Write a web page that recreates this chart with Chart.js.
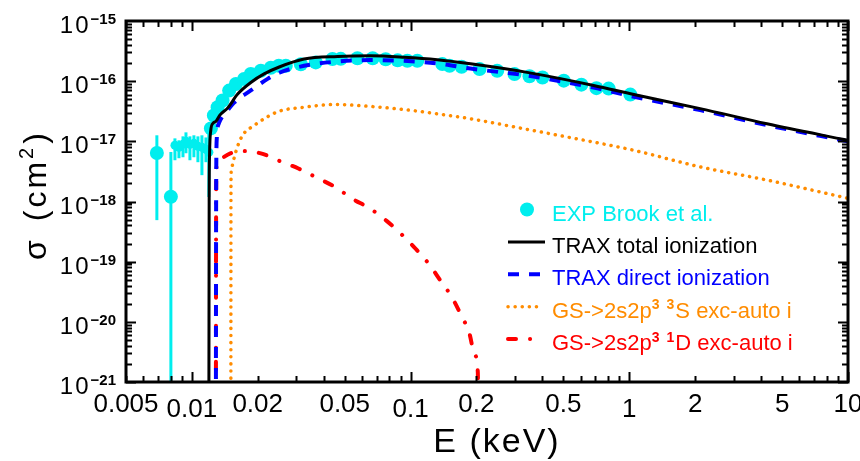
<!DOCTYPE html>
<html>
<head>
<meta charset="utf-8">
<script src="https://cdn.jsdelivr.net/npm/chart.js@4.4.1/dist/chart.umd.min.js"></script>
<style>
  html, body { margin: 0; padding: 0; background: #fff; }
  canvas { display: block; }
</style>
</head>
<body>
<canvas id="c" width="860" height="461"></canvas>
<script>
// cross sections in cm^2 vs electron energy in keV

// measured points (Brook et al.), with error bar bounds where visible
const expE = [0.00692, 0.00802, 0.00837, 0.00873, 0.00911, 0.0094, 0.0098, 0.01022, 0.01066, 0.01112, 0.0116, 0.01196,
  0.01222, 0.01261, 0.01312, 0.01382, 0.01481, 0.0159, 0.01734, 0.0186, 0.02067, 0.02296, 0.02497, 0.02689, 0.03149,
  0.03687, 0.04394, 0.04795, 0.05716, 0.06713, 0.07697, 0.0873, 0.0967, 0.1074, 0.1397, 0.1508, 0.1711, 0.2067, 0.249,
  0.2987, 0.3497, 0.401, 0.5017, 0.604, 0.7075, 0.805, 1.011];
const expS = [6.4e-18, 1.2e-18, 8.6e-18, 7.96e-18, 8.92e-18, 1.0e-17, 8.92e-18, 9.27e-18, 8.27e-18, 7.96e-18, 7.38e-18, 6.58e-18,
  1.64e-17, 2.69e-17, 3.69e-17, 4.76e-17, 6.97e-17, 8.99e-17, 1.09e-16, 1.32e-16, 1.49e-16, 1.67e-16, 1.80e-16, 1.80e-16, 1.91e-16,
  2.05e-16, 2.33e-16, 2.35e-16, 2.40e-16, 2.40e-16, 2.31e-16, 2.22e-16, 2.18e-16, 2.18e-16, 1.92e-16, 1.80e-16, 1.74e-16, 1.59e-16, 1.49e-16,
  1.31e-16, 1.21e-16, 1.15e-16, 1.02e-16, 8.75e-17, 7.66e-17, 7.52e-17, 5.98e-17];
const expLo = [4.9e-19, 1e-22, 4.85e-18, 5.24e-18, 5.44e-18, 6.34e-18, 4.85e-18, 5.44e-18, 4.5e-18, 2.74e-18, 4.5e-18, 1.19e-18];
const expHi = [1.26e-17, 6.65e-18, 1.12e-17, 1.04e-17, 1.21e-17, 1.41e-17, 1.21e-17, 1.26e-17, 1.21e-17, 1.26e-17, 1.16e-17, 1.36e-17];

// TRAX total ionization
const totE = [0.01196, 0.01198, 0.0120, 0.01205, 0.0122, 0.0125, 0.0129, 0.0134, 0.0146, 0.0162, 0.0186, 0.0214, 0.0251,
  0.0326, 0.0464, 0.0657, 0.0933, 0.1325, 0.188, 0.341, 0.687, 1.05, 2.11, 4.26, 10];
const totS = [1e-22, 1e-20, 1e-18, 6e-18, 1.5e-17, 2.0e-17, 2.15e-17, 2.7e-17, 3.6e-17, 6.1e-17, 9.5e-17, 1.32e-16, 1.72e-16,
  2.33e-16, 2.57e-16, 2.64e-16, 2.5e-16, 2.27e-16, 1.94e-16, 1.40e-16, 8.5e-17, 6.0e-17, 3.5e-17, 1.96e-17, 1.04e-17];

// TRAX direct ionization
const dirE = [0.01288, 0.0129, 0.01293, 0.0130, 0.0133, 0.0138, 0.0146, 0.0156, 0.0186, 0.0222, 0.0251, 0.0326, 0.0463,
  0.0657, 0.0933, 0.1325, 0.188, 0.341, 0.687, 1.05, 2.11, 4.26, 10];
const dirS = [1e-22, 1e-19, 3e-18, 1.1e-17, 2.0e-17, 2.6e-17, 3.3e-17, 4.4e-17, 7.0e-17, 1.09e-16, 1.38e-16, 1.80e-16, 2.12e-16,
  2.24e-16, 2.18e-16, 1.97e-16, 1.62e-16, 1.24e-16, 7.8e-17, 5.5e-17, 3.3e-17, 1.86e-17, 1.0e-17];

// excitation-autoionization via 2s2p3 3S
const s3E = [0.01508, 0.01509, 0.0151, 0.01515, 0.01545, 0.01606, 0.01706, 0.0193, 0.0218, 0.0251, 0.0326, 0.0447, 0.0657,
  0.093, 0.1325, 0.188, 0.341, 0.52, 1.047, 2.11, 4.26, 10];
const s3S = [1e-22, 1e-19, 2e-18, 3.3e-18, 4.55e-18, 7.6e-18, 1.26e-17, 1.84e-17, 2.47e-17, 3.17e-17, 3.69e-17, 4.09e-17, 3.8e-17,
  3.38e-17, 2.87e-17, 2.37e-17, 1.58e-17, 1.18e-17, 7.1e-18, 3.76e-18, 2.27e-18, 1.13e-18];

// excitation-autoionization via 2s2p3 1D
const d1E = [0.01288, 0.0129, 0.01293, 0.0131, 0.0138, 0.015, 0.0168, 0.02067, 0.02578, 0.0307, 0.0376, 0.045, 0.0544, 0.065,
  0.0777, 0.0901, 0.1055, 0.1206, 0.137, 0.1535, 0.171, 0.1854, 0.196, 0.203, 0.2045];
const d1S = [1e-22, 1e-19, 3e-18, 4.6e-18, 5.3e-18, 6.3e-18, 6.9e-18, 6.3e-18, 4.55e-18, 3.54e-18, 2.45e-18, 1.76e-18, 1.10e-18, 7.7e-19,
  4.76e-19, 2.94e-19, 1.64e-19, 9.4e-20, 4.85e-20, 2.67e-20, 1.25e-20, 6.6e-21, 2.9e-21, 1.45e-21, 1e-22];

const xTicks = [0.005, 0.01, 0.02, 0.05, 0.1, 0.2, 0.5, 1, 2, 5, 10];
const xTickText = ['0.005', '0.01', '0.02', '0.05', '0.1', '0.2', '0.5', '1', '2', '5', '10'];
const yExps = [-15, -16, -17, -18, -19, -20, -21];

const CYAN = '#00eeee';
const ORANGE = '#ff8c00';
const FONT = '"Liberation Sans", Arial, sans-serif';

const pts = (xs, ys) => xs.map((v, i) => ({ x: v, y: ys[i] }));

// text with superscripts: parts = [[text, isSup], ...]
function drawRich(ctx, parts, x, base, size, supSize, color) {
  ctx.fillStyle = color;
  ctx.textAlign = 'left';
  ctx.textBaseline = 'alphabetic';
  for (const [t, sup] of parts) {
    ctx.font = (sup ? 'bold ' + supSize : size) + 'px ' + FONT;
    ctx.fillText(t, x, sup ? base - size * 0.38 : base);
    x += ctx.measureText(t).width + (sup ? 1 : 0);
  }
}

const axesFrame = {
  id: 'axesFrame',
  beforeDatasetsDraw(chart) {
    // error bars under the markers
    const { ctx, chartArea: a, scales: { x, y } } = chart;
    ctx.save();
    ctx.beginPath();
    ctx.rect(a.left, a.top, a.right - a.left, a.bottom - a.top);
    ctx.clip();
    ctx.strokeStyle = CYAN;
    ctx.lineWidth = 3;
    expLo.forEach((lo, i) => {
      const px = x.getPixelForValue(expE[i]);
      ctx.beginPath();
      ctx.moveTo(px, y.getPixelForValue(lo));
      ctx.lineTo(px, y.getPixelForValue(expHi[i]));
      ctx.stroke();
    });
    ctx.restore();
  },
  afterDraw(chart) {
    const { ctx, chartArea: a, scales: { x, y } } = chart;
    ctx.save();
    ctx.strokeStyle = '#000';
    ctx.fillStyle = '#000';

    // minor / major ticks, pointing inward on all four sides
    ctx.lineWidth = 2;
    ctx.beginPath();
    for (let d = 0.001; d < 20; d *= 10) {
      for (let m = 1; m <= 9; m++) {
        const v = m * d;
        if (v < 0.0049 || v > 10.01) continue;
        const px = Math.round(x.getPixelForValue(v)) + 0.5;
        const len = m === 1 ? 10 : 6;
        ctx.moveTo(px, a.bottom); ctx.lineTo(px, a.bottom - len);
        ctx.moveTo(px, a.top); ctx.lineTo(px, a.top + len);
      }
    }
    for (let e = -21; e < -15; e++) {
      for (let m = 1; m <= 9; m++) {
        const py = Math.round(y.getPixelForValue(m * Math.pow(10, e))) + 0.5;
        const len = m === 1 ? 10 : 6;
        ctx.moveTo(a.left, py); ctx.lineTo(a.left + len, py);
        ctx.moveTo(a.right, py); ctx.lineTo(a.right - len, py);
      }
    }
    ctx.stroke();

    ctx.lineWidth = 3;
    ctx.strokeRect(a.left, a.top, a.right - a.left, a.bottom - a.top);

    // x tick labels
    ctx.font = '26px ' + FONT;
    ctx.textAlign = 'center';
    ctx.textBaseline = 'alphabetic';
    xTicks.forEach((v, i) => {
      const t = xTickText[i];
      ctx.fillText(t, x.getPixelForValue(v), t.endsWith('1') ? 417 : 412);
    });

    // y tick labels 10^n
    yExps.forEach(e => {
      const py = y.getPixelForValue(Math.pow(10, e));
      const sup = '\u2212' + Math.abs(e);
      ctx.font = 'bold 15px ' + FONT;
      ctx.textAlign = 'right';
      ctx.fillText(sup, 116, py + 3);
      const sw = ctx.measureText(sup).width;
      ctx.font = '24px ' + FONT;
      ctx.letterSpacing = '2px';
      ctx.fillText('10', 116 - sw, py + 12);
      ctx.letterSpacing = '0px';
    });

    // axis titles
    ctx.font = '34px ' + FONT;
    ctx.textAlign = 'center';
    ctx.letterSpacing = '2px';
    ctx.fillText('E (keV)', 497, 452);
    ctx.letterSpacing = '0px';

    ctx.save();
    ctx.translate(46, 260);
    ctx.rotate(-Math.PI / 2);
    ctx.letterSpacing = '3px';
    drawRich(ctx, [['\u03c3', false]], 0, 0, 32, 20, '#000');
    ctx.font = '32px ' + FONT;
    let tx = ctx.measureText('\u03c3').width + 16;
    ctx.fillText('(cm', tx, 0);
    tx += ctx.measureText('(cm').width;
    ctx.font = '20px ' + FONT;
    ctx.fillText('2', tx, -13);
    tx += ctx.measureText('2').width + 1;
    ctx.font = '32px ' + FONT;
    ctx.fillText(')', tx, 0);
    ctx.letterSpacing = '0px';
    ctx.restore();

    // legend
    const lx = 552, base0 = 220.5, step = 32.4;
    const rows = [
      { parts: [['EXP Brook et al.', false]], color: CYAN },
      { parts: [['TRAX total ionization', false]], color: '#000', end: 545 },
      { parts: [['TRAX direct ionization', false]], color: '#0000ff', end: 540 },
      { parts: [['GS->2s2p', false], ['3', true], [' ', false], ['3', true], ['S exc-auto i', false]], color: ORANGE, end: 541 },
      { parts: [['GS->2s2p', false], ['3', true], [' ', false], ['1', true], ['D exc-auto i', false]], color: '#ff0000', end: 531 },
    ];
    rows.forEach((r, i) => {
      const b = base0 + step * i;
      const sy = b - 11;
      ctx.save();
      if (i === 0) {
        ctx.fillStyle = CYAN;
        ctx.beginPath(); ctx.arc(527, sy, 7, 0, Math.PI * 2); ctx.fill();
      } else {
        const ds = chart.data.datasets[i];
        ctx.strokeStyle = ds.borderColor;
        ctx.lineWidth = ds.borderWidth;
        ctx.lineCap = ds.borderCapStyle || 'butt';
        ctx.setLineDash(ds.borderDash || []);
        ctx.beginPath(); ctx.moveTo(508, sy); ctx.lineTo(r.end, sy); ctx.stroke();
      }
      ctx.restore();
      drawRich(ctx, r.parts, lx, b, 22, 14, r.color);
    });

    ctx.restore();
  }
};

new Chart(document.getElementById('c'), {
  type: 'scatter',
  data: {
    datasets: [
      {
        label: 'EXP Brook et al.',
        data: pts(expE, expS),
        backgroundColor: CYAN,
        borderWidth: 0,
        pointRadius: (c) => {
          const e = c.raw ? c.raw.x : 0;
          return e > 0.0083 && e < 0.0121 ? 4.5 : 7;
        },
        order: 5,
        clip: 0,
      },
      {
        label: 'TRAX total ionization',
        data: pts(totE, totS),
        showLine: true,
        borderColor: '#000',
        borderWidth: 3,
        pointRadius: 0,
        order: 1,
        clip: 0,
      },
      {
        label: 'TRAX direct ionization',
        data: pts(dirE, dirS),
        showLine: true,
        borderColor: '#0000ff',
        borderWidth: 4,
        borderDash: [11, 10],
        pointRadius: 0,
        order: 2,
        clip: 0,
      },
      {
        label: 'GS->2s2p3 3S exc-auto i',
        data: pts(s3E, s3S),
        showLine: true,
        borderColor: ORANGE,
        borderWidth: 3.5,
        borderDash: [0.1, 7],
        borderCapStyle: 'round',
        pointRadius: 0,
        order: 3,
        clip: 0,
      },
      {
        label: 'GS->2s2p3 1D exc-auto i',
        data: pts(d1E, d1S),
        showLine: true,
        borderColor: '#ff0000',
        borderWidth: 4,
        borderDash: [8, 14, 0.1, 14],
        borderCapStyle: 'round',
        pointRadius: 0,
        order: 3,
        clip: 0,
      },
    ],
  },
  options: {
    responsive: false,
    animation: false,
    events: [],
    layout: { padding: { left: 126, right: 12, top: 21, bottom: 79 } },
    elements: { line: { cubicInterpolationMode: 'monotone' } },
    plugins: { legend: { display: false }, tooltip: { enabled: false } },
    scales: {
      x: { type: 'logarithmic', min: 0.005, max: 10, display: false },
      y: { type: 'logarithmic', min: 1e-21, max: 1e-15, display: false },
    },
  },
  plugins: [axesFrame],
});
</script>
</body>
</html>
